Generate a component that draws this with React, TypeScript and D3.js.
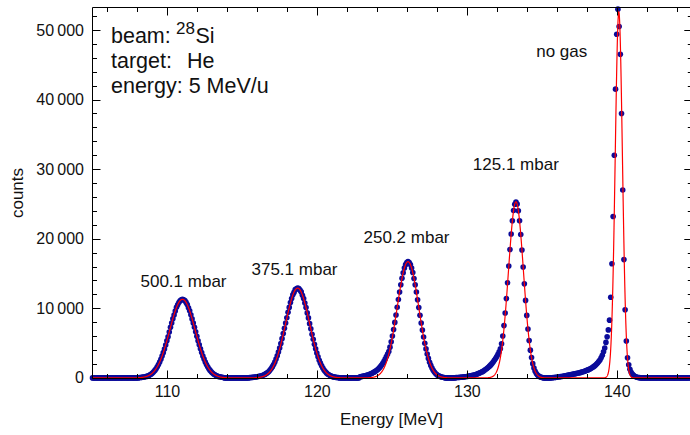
import React from 'react'
import * as d3 from 'd3'

// energy spectrum of 28Si on He at different gas pressures
const energyMin = 105
const energyMax = 145
const channelWidth = 0.08

// measured counts per channel, each block starts at the given energy (MeV)
const startA = 108.12
const countsA = [45, 60, 80, 105, 130, 170, 215, 275, 350, 440, 555, 700, 880, 1080, 1320, 1600, 1910, 2270, 2680, 3130,
  3630, 4160, 4730, 5340, 5900, 6600, 7290, 7880, 8500, 9030, 9620, 10150, 10510, 10840, 11090, 11240, 11310, 11230,
  11120, 10850, 10540, 10090, 9650, 9080, 8480, 7880, 7270, 6640, 5980, 5340, 4750, 4200, 3640, 3130, 2700, 2280,
  1920, 1600, 1320, 1080, 880, 705, 560, 445, 350, 270, 205, 160, 120, 90, 65]

const startB = 115.48
const countsB = [45, 60, 75, 95, 115, 140, 165, 195, 230, 270, 320, 380, 450, 540, 650, 780, 930, 1120, 1350, 1620,
  1930, 2290, 2720, 3190, 3720, 4300, 4950, 5640, 6370, 7120, 7900, 8650, 9420, 10130, 10820, 11400, 11950, 12290,
  12680, 12820, 12910, 12850, 12610, 12360, 11880, 11400, 10750, 10120, 9340, 8620, 7800, 7060, 6260, 5560, 4820,
  4200, 3570, 3050, 2540, 2120, 1730, 1420, 1140, 920, 720, 570, 440, 335, 255, 190, 145, 105, 78, 55, 40]

const startC = 122.84
const countsC = [150, 180, 220, 260, 300, 350, 400, 460, 520, 590, 670, 760, 860, 970, 1100, 1250, 1420, 1620, 1850,
  2110, 2400, 2720, 3060, 3420, 3800, 4420, 5180, 6020, 6960, 7980, 9050, 10150, 11270, 12350, 13380, 14310, 15120,
  15790, 16280, 16590, 16710, 16580, 16300, 15780, 15140, 14290, 13380, 12330, 11240, 10120, 9010, 7900, 6870, 5880,
  4970, 4170, 3430, 2800, 2260, 1800, 1410, 1090, 840, 635, 475, 350, 255, 185, 130, 90, 65]

const startD = 129.24
const countsD = [45, 55, 65, 80, 95, 110, 130, 150, 175, 200, 225, 255, 290, 325, 365, 410, 460, 520, 580, 650, 730,
  810, 900, 1000, 1120, 1240, 1380, 1530, 1690, 1870, 2070, 2290, 2530, 2790, 3080, 3400, 3750, 4200, 4900, 6020,
  7520, 9320, 11400, 13680, 16080, 18450, 20680, 22580, 24060, 24950, 25280, 24990, 24020, 22570, 20600, 18390,
  15940, 13520, 11140, 8980, 7020, 5380, 3990, 2920, 2050, 1420, 950, 620, 400, 250, 150, 90, 50]

const startE = 135.64
const countsE = [30, 45, 60, 80, 100, 125, 150, 180, 210, 240, 270, 305, 340, 375, 410, 445, 480, 515, 550, 585, 620,
  660, 700, 740, 790, 840, 890, 950, 1010, 1080, 1150, 1230, 1320, 1420, 1530, 1650, 1790, 1950, 2130, 2340, 2580,
  2880, 3250, 3750, 4300, 5100, 5900, 6900, 8300, 11600, 16400, 23200, 32000, 41500, 49400, 53000, 50500, 46500,
  38000, 27000, 17000, 9800, 5300, 2900, 1900, 1250, 820, 540, 360, 240, 150, 95, 60, 35]

// gaussian fits
const fitCenters = [111.0, 118.68, 126.04, 133.24, 140.1]
const fitSigmas = [0.85, 0.8, 0.72, 0.5, 0.24]
const fitAmplitudes = [11300, 12900, 16700, 25300, 52600]

const xMajorTicks = [110, 120, 130, 140]
const yMajorTicks = [0, 10000, 20000, 30000, 40000, 50000]

const W = 690
const H = 435
const font = '"Liberation Sans", Arial, Helvetica, sans-serif'
const dotColor = '#0b0b9a'

const blocks = [
  { start: startA, counts: countsA },
  { start: startB, counts: countsB },
  { start: startC, counts: countsC },
  { start: startD, counts: countsD },
  { start: startE, counts: countsE },
]

const nChannels = Math.round((energyMax - energyMin) / channelWidth) + 1
const spectrum = d3.range(nChannels).map(i => ({ e: energyMin + i * channelWidth, c: 0 }))
blocks.forEach(b => {
  const i0 = Math.round((b.start - energyMin) / channelWidth)
  b.counts.forEach((c, j) => { spectrum[i0 + j].c = c })
})

const fitValue = (e: number) =>
  d3.sum(fitCenters, (m, i) => fitAmplitudes[i] * Math.exp(-((e - m) ** 2) / (2 * fitSigmas[i] ** 2)))

const fmt = (v: number) => (v === 0 ? '0' : d3.format(',')(v).replace(',', '\u2009'))

export default function App() {
  const x = d3.scaleLinear().domain([energyMin, energyMax]).range([92.5, 692.3])
  const y = d3.scaleLinear().domain([-86, 53234]).range([378.5, 7.5])
  const left = 92.5, right = 692.3, top = 7.5, bottom = 378.5

  const fitLine = d3.line<number>()
    .x(e => x(e))
    .y(e => y(fitValue(e)))
  const fitSamples = d3.range(energyMin, energyMax + 0.001, 0.01)

  const xMinor = d3.range(106, 145, 2).filter(t => !xMajorTicks.includes(t))
  const yMinor = d3.range(2000, 53000, 2000).filter(t => !yMajorTicks.includes(t))
  const px = (v: number) => Math.round(v) + 0.5

  return (
    <svg width={W} height={H} style={{ position: 'absolute', left: 0, top: 0, background: '#fff' }}
      fontFamily={font}>
      {/* data points */}
      <g fill={dotColor}>
        {spectrum.map((d, i) => (
          <circle key={i} cx={x(d.e)} cy={y(d.c)} r={2.8} />
        ))}
      </g>
      {/* fit */}
      <path d={fitLine(fitSamples) || ''} fill="none" stroke="#ff0000" strokeWidth={1.2} />

      {/* frame and ticks */}
      <g stroke="#000" strokeWidth={1}>
        <line x1={left} x2={left} y1={top} y2={bottom} />
        <line x1={left} x2={right} y1={top} y2={top} />
        <line x1={left} x2={right} y1={bottom} y2={bottom} />
        {xMajorTicks.map(t => (
          <g key={'xm' + t}>
            <line x1={px(x(t))} x2={px(x(t))} y1={bottom} y2={bottom - 8} />
            <line x1={px(x(t))} x2={px(x(t))} y1={top} y2={top + 8} />
          </g>
        ))}
        {xMinor.map(t => (
          <g key={'xn' + t}>
            <line x1={px(x(t))} x2={px(x(t))} y1={bottom} y2={bottom - 4.5} />
            <line x1={px(x(t))} x2={px(x(t))} y1={top} y2={top + 4.5} />
          </g>
        ))}
        {yMajorTicks.map(t => (
          <g key={'ym' + t}>
            <line x1={left} x2={left + 8} y1={px(y(t))} y2={px(y(t))} />
            <line x1={right} x2={right - 8} y1={px(y(t))} y2={px(y(t))} />
          </g>
        ))}
        {yMinor.map(t => (
          <g key={'yn' + t}>
            <line x1={left} x2={left + 4.5} y1={px(y(t))} y2={px(y(t))} />
            <line x1={right} x2={right - 4.5} y1={px(y(t))} y2={px(y(t))} />
          </g>
        ))}
      </g>

      {/* tick labels */}
      <g fontSize={16} fill="#111">
        {xMajorTicks.map(t => (
          <text key={'xl' + t} x={x(t)} y={397} textAnchor="middle">{t}</text>
        ))}
        {yMajorTicks.map(t => (
          <text key={'yl' + t} x={84} y={y(t) + 5.5} textAnchor="end">{fmt(t)}</text>
        ))}
      </g>

      {/* axis titles */}
      <text x={391.5} y={425} fontSize={17} textAnchor="middle" fill="#111">Energy [MeV]</text>
      <text transform="translate(23,193) rotate(-90)" fontSize={17} textAnchor="middle" fill="#111">counts</text>

      {/* info */}
      <g fontSize={21.5} fill="#111">
        <text x={111} y={43}>beam:</text>
        <text x={176} y={34} fontSize={17}>28</text>
        <text x={195.5} y={43}>Si</text>
        <text x={111} y={68}>target:</text>
        <text x={187} y={68}>He</text>
        <text x={111} y={93}>energy: 5 MeV/u</text>
      </g>

      {/* peak labels */}
      <g fontSize={17} fill="#111" textAnchor="middle">
        <text x={183.5} y={287}>500.1 mbar</text>
        <text x={294.5} y={275}>375.1 mbar</text>
        <text x={406.5} y={243}>250.2 mbar</text>
        <text x={515.8} y={170}>125.1 mbar</text>
        <text x={561.7} y={57}>no gas</text>
      </g>
    </svg>
  )
}
